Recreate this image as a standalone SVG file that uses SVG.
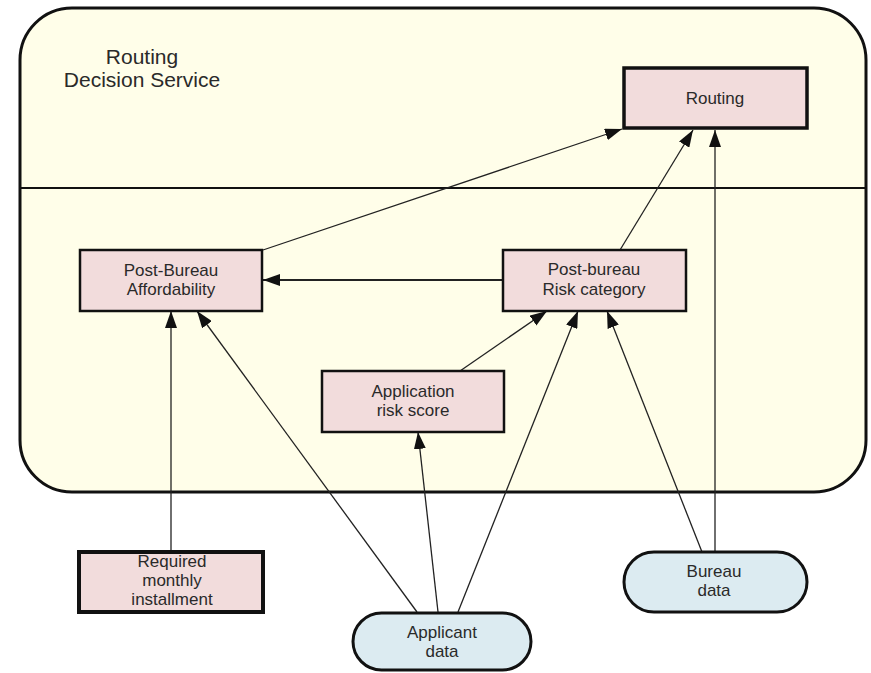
<svg xmlns="http://www.w3.org/2000/svg" width="871" height="673" viewBox="0 0 871 673">
<defs>
<style>
text{font-family:"Liberation Sans",Arial,sans-serif;fill:#2a2a2a;text-anchor:middle}
.lbl{font-size:17px}
.title{font-size:21px}
.dec{fill:#f2dcdc;stroke:#111;stroke-width:2.5}
.data{fill:#dcebf1;stroke:#111;stroke-width:3}
.edge{stroke:#222;stroke-width:1.3;fill:none;marker-end:url(#ah)}
</style>
<marker id="ah" markerUnits="userSpaceOnUse" markerWidth="18" markerHeight="12" refX="17" refY="6" orient="auto">
<path d="M0,0 L17,6 L0,12 z" fill="#111"/>
</marker>
</defs>
<rect width="871" height="673" fill="#ffffff"/>
<g id="service">
<rect x="20" y="8" width="846" height="484" rx="52" ry="52" fill="#fffee9" stroke="#111" stroke-width="3"/>
<line x1="20" y1="188" x2="866" y2="188" stroke="#111" stroke-width="1.8"/>
<text class="title" x="142" y="64">Routing</text>
<text class="title" x="142" y="87">Decision Service</text>
</g>
<g id="connectors">
<line class="edge" x1="263" y1="250" x2="622" y2="129"/>
<line class="edge" x1="620" y1="250" x2="693" y2="130"/>
<line class="edge" x1="715" y1="552" x2="715" y2="130"/>
<line class="edge" x1="503" y1="280" x2="263" y2="280" style="stroke-width:2"/>
<line class="edge" x1="460" y1="371" x2="547" y2="311"/>
<line class="edge" x1="171" y1="552" x2="171" y2="311"/>
<line class="edge" x1="417" y1="612" x2="197" y2="311"/>
<line class="edge" x1="438" y1="612" x2="418" y2="432"/>
<line class="edge" x1="458" y1="612" x2="578" y2="311"/>
<line class="edge" x1="702" y1="552" x2="607" y2="311"/>
</g>
<g id="routing">
<rect class="dec" x="624" y="68" width="183" height="60" style="stroke-width:3.5"/>
<text class="lbl" x="715" y="104">Routing</text>
</g>
<g id="affordability">
<rect class="dec" x="80" y="250" width="182" height="61"/>
<text class="lbl" x="171" y="276">Post-Bureau</text>
<text class="lbl" x="171" y="295">Affordability</text>
</g>
<g id="riskcategory">
<rect class="dec" x="503" y="250" width="183" height="61"/>
<text class="lbl" x="594" y="275">Post-bureau</text>
<text class="lbl" x="594" y="295">Risk category</text>
</g>
<g id="appriskscore">
<rect class="dec" x="322" y="371" width="182" height="61"/>
<text class="lbl" x="413" y="397">Application</text>
<text class="lbl" x="413" y="416">risk score</text>
</g>
<g id="installment">
<rect class="dec" x="79" y="552" width="184" height="60" style="stroke-width:4"/>
<text class="lbl" x="172" y="567">Required</text>
<text class="lbl" x="172" y="586">monthly</text>
<text class="lbl" x="172" y="605">installment</text>
</g>
<g id="applicant">
<rect class="data" x="353" y="613" width="178" height="57" rx="28.5" ry="28.5"/>
<text class="lbl" x="442" y="638">Applicant</text>
<text class="lbl" x="442" y="657">data</text>
</g>
<g id="bureau">
<rect class="data" x="624" y="552" width="183" height="60" rx="30" ry="30"/>
<text class="lbl" x="714" y="577">Bureau</text>
<text class="lbl" x="714" y="596">data</text>
</g>
</svg>
